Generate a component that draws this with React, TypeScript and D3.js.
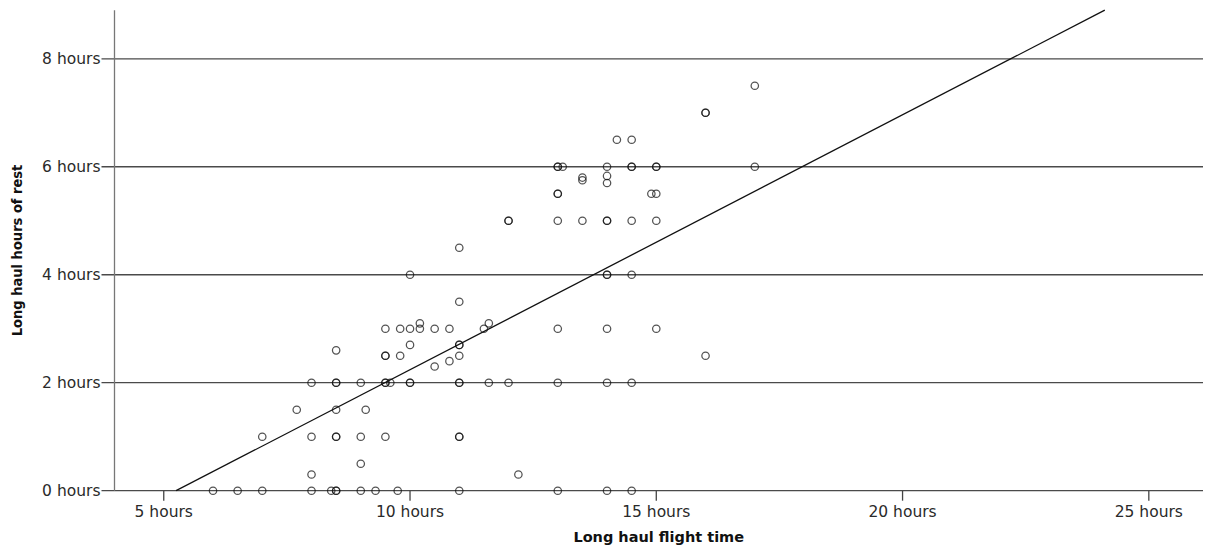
import React from "react";
import * as d3 from "d3";

// Flight time (hours) and rest taken (hours) per long-haul trip
const flightHours: number[] = [
  // rest 0
  6, 6.5, 7, 8, 8.4, 8.5, 8.5, 9, 9.3, 9.75, 11, 13, 14, 14.5,
  // rest 0.3 / 0.5
  8, 12.2, 9,
  // rest 1
  7, 8, 8.5, 8.5, 9, 9.5, 11, 11,
  // rest 1.5
  7.7, 8.5, 9.1,
  // rest 2
  8, 8.5, 8.5, 9, 9.5, 9.5, 9.6, 10, 10, 11, 11, 11.6, 12, 13, 14, 14.5,
  // rest 2.3 – 2.7
  10.5, 10.8, 9.5, 9.5, 9.8, 11, 16, 8.5, 10, 11, 11,
  // rest 3 – 3.5
  9.5, 9.8, 10, 10.2, 10.5, 10.8, 11.5, 13, 14, 15, 10.2, 11.6, 11,
  // rest 4 – 4.5
  10, 14, 14, 14.5, 11,
  // rest 5
  12, 12, 13, 13.5, 14, 14, 14.5, 15,
  // rest 5.5 – 5.83
  13, 13, 14.9, 15, 14, 13.5, 13.5, 14,
  // rest 6
  13, 13, 13.1, 14, 14.5, 14.5, 15, 15, 17,
  // rest 6.5 – 7.5
  14.2, 14.5, 16, 16, 17,
];

const restHours: number[] = [
  0, 0, 0, 0, 0, 0, 0, 0, 0, 0, 0, 0, 0, 0,
  0.3, 0.3, 0.5,
  1, 1, 1, 1, 1, 1, 1, 1,
  1.5, 1.5, 1.5,
  2, 2, 2, 2, 2, 2, 2, 2, 2, 2, 2, 2, 2, 2, 2, 2,
  2.3, 2.4, 2.5, 2.5, 2.5, 2.5, 2.5, 2.6, 2.7, 2.7, 2.7,
  3, 3, 3, 3, 3, 3, 3, 3, 3, 3, 3.1, 3.1, 3.5,
  4, 4, 4, 4, 4.5,
  5, 5, 5, 5, 5, 5, 5, 5,
  5.5, 5.5, 5.5, 5.5, 5.7, 5.75, 5.8, 5.83,
  6, 6, 6, 6, 6, 6, 6, 6, 6,
  6.5, 6.5, 7, 7, 7.5,
];

// Linear fit: rest = slope * flight + intercept
const fitSlope = 0.472;
const fitIntercept = -2.478;

const xTicks: number[] = [5, 10, 15, 20, 25];
const yTicks: number[] = [0, 2, 4, 6, 8];
const xTitle = "Long haul flight time";
const yTitle = "Long haul hours of rest";

const W = 1210;
const H = 549;

export default function App() {
  const x = d3.scaleLinear().domain([4.0, 26.1]).range([114.5, 1203]);
  const y = d3.scaleLinear().domain([0, 8.9]).range([490.7, 10.2]);

  const [yMin, yMax] = y.domain();
  const fitX0 = (yMin - fitIntercept) / fitSlope;
  const fitX1 = (yMax - fitIntercept) / fitSlope;
  const fitLine = d3
    .line<number>()
    .x((d) => x(d))
    .y((d) => y(fitSlope * d + fitIntercept))([fitX0, fitX1]);

  const [x0, x1] = x.range();
  const tickFont = "'DejaVu Sans', sans-serif";

  return (
    <svg
      width={W}
      height={H}
      style={{ position: "absolute", left: 0, top: 0, background: "#fff" }}
    >
      {/* horizontal grid lines with y ticks */}
      {yTicks.map((t) => (
        <g key={"y" + t}>
          <line
            x1={x0 - 13}
            x2={x1}
            y1={y(t)}
            y2={y(t)}
            stroke="#4a4a4a"
            strokeWidth={1.3}
          />
          <text
            x={x0 - 14}
            y={y(t)}
            dy="0.36em"
            textAnchor="end"
            fontFamily={tickFont}
            fontSize={15.5}
            fill="#2a2a2a"
          >
            {t} hours
          </text>
        </g>
      ))}

      {/* y axis line */}
      <line x1={x0} x2={x0} y1={y(yMin)} y2={y(yMax)} stroke="#777" strokeWidth={1.3} />

      {/* x ticks */}
      {xTicks.map((t) => (
        <g key={"x" + t}>
          <line
            x1={x(t)}
            x2={x(t)}
            y1={y(0)}
            y2={y(0) + 10}
            stroke="#444"
            strokeWidth={1.3}
          />
          <text
            x={x(t)}
            y={y(0) + 26}
            textAnchor="middle"
            fontFamily={tickFont}
            fontSize={15.5}
            fill="#2a2a2a"
          >
            {t} hours
          </text>
        </g>
      ))}

      {/* scatter points */}
      {flightHours.map((fx, i) => (
        <circle
          key={"p" + i}
          cx={x(fx)}
          cy={y(restHours[i])}
          r={3.7}
          fill="none"
          stroke="#111"
          strokeOpacity={0.72}
          strokeWidth={1.25}
        />
      ))}

      {/* fit line */}
      <path d={fitLine ?? ""} fill="none" stroke="#111" strokeWidth={1.3} />

      {/* axis titles */}
      <text
        x={(x0 + x1) / 2}
        y={542}
        textAnchor="middle"
        fontFamily="'DejaVu Sans', sans-serif"
        fontWeight="bold"
        fontSize={14.5}
        fill="#111"
      >
        {xTitle}
      </text>
      <text
        transform={`translate(22, ${(y(yMin) + y(yMax)) / 2}) rotate(-90)`}
        textAnchor="middle"
        fontFamily="'DejaVu Sans Condensed', 'DejaVu Sans', sans-serif"
        fontStretch="condensed"
        fontWeight="bold"
        fontSize={14.5}
        fill="#111"
      >
        {yTitle}
      </text>
    </svg>
  );
}
